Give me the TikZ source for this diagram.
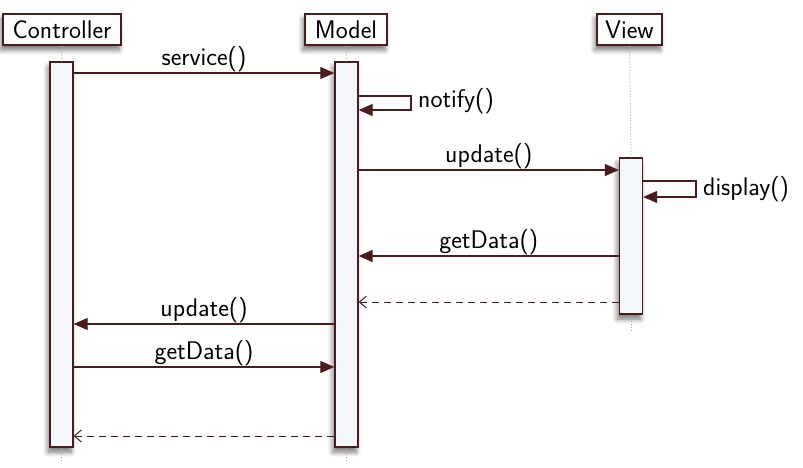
\documentclass[tikz,border=0pt]{standalone}
\usetikzlibrary{arrows.meta,shadows,shadows.blur,calc}
\definecolor{edge}{HTML}{4A1C1C}
\definecolor{actfill}{HTML}{F4F7F9}
\begin{document}
\begin{tikzpicture}[x=1pt,y=-1pt,
  font=\sffamily\fontsize{25.5}{29}\selectfont,
  actor/.style={draw=edge,line width=1.3pt,fill=white,inner sep=0pt,minimum height=31pt,
    blur shadow={shadow xshift=-2pt,shadow yshift=-5pt,shadow opacity=55,shadow blur steps=8,shadow blur radius=5pt}},
  actbar/.style={draw=edge,line width=1.3pt,fill=actfill,minimum width=23pt,inner sep=0pt,
    blur shadow={shadow xshift=-2pt,shadow yshift=-5pt,shadow opacity=55,shadow blur steps=8,shadow blur radius=5pt}},
  life/.style={draw=gray!70,line width=1pt,dotted},
  msg/.style={draw=edge,line width=1.1pt,-{Triangle[length=14pt,width=12pt]}},
  ret/.style={draw=edge,line width=1pt,dashed,dash pattern=on 7pt off 5pt,-{Straight Barb[length=7pt,width=12pt,line width=1pt]}},
  lbl/.style={inner sep=1pt}]
\useasboundingbox (0,0) rectangle (803,468);
% actors
\node[actor,minimum width=118pt] (ctl) at (62,29.5) {Controller};
\node[actor,minimum width=82pt] (mdl) at (346,29.5) {Model};
\node[actor,minimum width=65pt] (vw) at (629.5,29.5) {View};
% activation bars
\node[actbar,minimum height=385pt] (cact) at (61.5,254.5) {};
\node[actbar,minimum height=385pt] (mact) at (346.5,254.5) {};
\node[actbar,minimum height=156pt] (vact) at (631,236) {};
% lifelines
\coordinate (cend) at (61.5,462);
\coordinate (mend) at (346.5,462);
\coordinate (vend) at (631,330);
\draw[life] (ctl.south) -- (cact.north);
\draw[life] (cact.south) -- (cend);
\draw[life] (mdl.south) -- (mact.north);
\draw[life] (mact.south) -- (mend);
\draw[life] (vw.south) -- (vact.north);
\draw[life] (vact.south) -- (vend);
% message levels
\coordinate (y1) at (0,73);
\coordinate (y2a) at (0,96);
\coordinate (y2b) at (0,110);
\coordinate (y3) at (0,170);
\coordinate (y4a) at (0,181);
\coordinate (y4b) at (0,197);
\coordinate (y5) at (0,256);
\coordinate (y6) at (0,302);
\coordinate (y7) at (0,324);
\coordinate (y8) at (0,367);
\coordinate (y9) at (0,436);
% service()
\draw[msg] (cact.east |- y1) -- node[lbl,above] {service()} (mact.west |- y1);
% notify()
\coordinate (nx) at (411,0);
\draw[msg] (mact.east |- y2a) -- (nx |- y2a) -- (nx |- y2b) -- (mact.east |- y2b);
\node[lbl,anchor=west] (nlab) at ($(nx |- y2a)!0.5!(nx |- y2b)+(6,-2)$) {notify()};
% update() to view
\draw[msg] (mact.east |- y3) -- node[lbl,above] {update()} (vact.west |- y3);
% display()
\coordinate (dx) at (696,0);
\draw[msg] (vact.east |- y4a) -- (dx |- y4a) -- (dx |- y4b) -- (vact.east |- y4b);
\node[lbl,anchor=west] (dlab) at ($(dx |- y4a)!0.5!(dx |- y4b)+(6,0)$) {display()};
% getData() view -> model
\draw[msg] (vact.west |- y5) -- node[lbl,above] {getData()} (mact.east |- y5);
% return
\draw[ret] (vact.west |- y6) -- (mact.east |- y6);
% update() model -> controller
\draw[msg] (mact.west |- y7) -- node[lbl,above] {update()} (cact.east |- y7);
% getData() controller -> model
\draw[msg] (cact.east |- y8) -- node[lbl,above] {getData()} (mact.west |- y8);
% return
\draw[ret] (mact.west |- y9) -- (cact.east |- y9);
\end{tikzpicture}
\end{document}
